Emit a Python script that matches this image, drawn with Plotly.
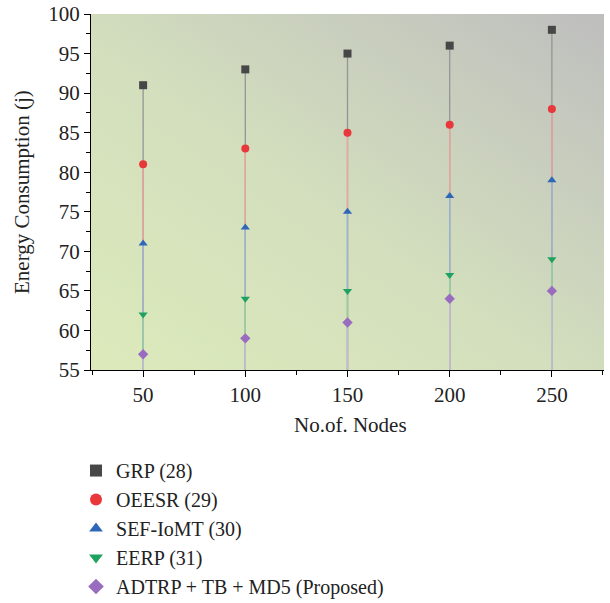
import plotly.graph_objects as go
import base64

nodes = [50, 100, 150, 200, 250]
series_names = ["GRP (28)", "OEESR (29)", "SEF-IoMT (30)", "EERP (31)", "ADTRP + TB + MD5 (Proposed)"]
grp = [91, 93, 95, 96, 98]
oeesr = [81, 83, 85, 86, 88]
sef = [71, 73, 75, 77, 79]
eerp = [62, 64, 65, 67, 69]
adtrp = [57, 59, 61, 64, 65]
y_ticks = [55, 60, 65, 70, 75, 80, 85, 90, 95, 100]
x_ticks = [50, 100, 150, 200, 250]

series_values = [grp, oeesr, sef, eerp, adtrp]
marker_colors = ["#474747", "#e8383b", "#2f67b8", "#1fa25f", "#9a6cc0"]
line_colors = ["#959595", "#efa39f", "#8fb6d6", "#93d39a", "#c9b9d6"]
symbols = ["square", "circle", "triangle-up", "triangle-down", "diamond"]
baseline = 55

FONT = "Liberation Serif"
FS = 21
TXT = "#222222"

fig = go.Figure()

# drop lines
for vals, lc in zip(series_values, line_colors):
    xs, ys = [], []
    for x, v in zip(nodes, vals):
        xs += [x, x, None]
        ys += [v, baseline, None]
    fig.add_trace(go.Scatter(x=xs, y=ys, mode="lines", line=dict(color=lc, width=1.3),
                             showlegend=False, hoverinfo="skip"))

for i, (name, vals, mc, sym) in enumerate(zip(series_names, series_values, marker_colors, symbols)):
    fig.add_trace(go.Scatter(x=nodes, y=vals, mode="markers", name=name,
                             marker=dict(symbol=sym, color=mc, size=8, line=dict(width=0)),
                             legendgroup=f"g{i}"))

svg = ('<svg xmlns="http://www.w3.org/2000/svg" width="100" height="100" preserveAspectRatio="none">'
       '<defs><linearGradient id="g" x1="0" y1="1" x2="1" y2="0">'
       '<stop offset="0" stop-color="#dceabb"/>'
       '<stop offset="0.45" stop-color="#d3dfbd"/>'
       '<stop offset="1" stop-color="#bebebe"/>'
       '</linearGradient></defs>'
       '<rect width="100" height="100" fill="url(#g)"/></svg>')
src = "data:image/svg+xml;base64," + base64.b64encode(svg.encode()).decode()

fig.add_layout_image(dict(source=src, xref="paper", yref="paper", x=0, y=1, sizex=1, sizey=1,
                          sizing="stretch", layer="below", xanchor="left", yanchor="top"))

fig.add_annotation(text="Energy Consumption (j)", xref="paper", yref="paper", x=0, y=0.5,
                   xanchor="center", yanchor="middle", xshift=-69, textangle=-90, showarrow=False,
                   font=dict(family=FONT, size=FS, color=TXT))
fig.add_annotation(text="No.of. Nodes", xref="paper", yref="paper", x=0.505, y=0,
                   xanchor="center", yanchor="middle", yshift=-55, showarrow=False,
                   font=dict(family=FONT, size=FS, color=TXT))

fig.update_layout(
    width=610, height=603,
    margin=dict(l=91, r=6, t=14, b=233, autoexpand=False),
    paper_bgcolor="white", plot_bgcolor="rgba(0,0,0,0)",
    font=dict(family=FONT, size=FS, color=TXT),
    showlegend=True,
    legend=dict(x=0.1246, xref="container", y=0.252, yref="container", yanchor="top", xanchor="left",
                font=dict(family=FONT, size=20, color=TXT),
                tracegroupgap=0, bgcolor="rgba(0,0,0,0)", itemsizing="constant"),
    xaxis=dict(range=[24.5, 275.5], tickvals=x_ticks, ticks="outside", ticklen=6, tickwidth=1,
               tickcolor="black", showline=True, linecolor="black", linewidth=1.2,
               showgrid=False, zeroline=False, automargin=False,
               minor=dict(ticks="outside", ticklen=4, tickcolor="black", dtick=25, tick0=25, showgrid=False),
               tickfont=dict(family=FONT, size=FS, color=TXT)),
    yaxis=dict(range=[55, 100], tickvals=y_ticks, ticks="outside", ticklen=6, tickwidth=1,
               tickcolor="black", showline=True, linecolor="black", linewidth=1.2,
               showgrid=False, zeroline=False, automargin=False,
               minor=dict(ticks="outside", ticklen=4, tickcolor="black", dtick=2.5, tick0=55, showgrid=False),
               tickfont=dict(family=FONT, size=FS, color=TXT)),
)

fig.write_html("out.html", post_script="document.body.style.margin='0';",
               config={"displayModeBar": False})
